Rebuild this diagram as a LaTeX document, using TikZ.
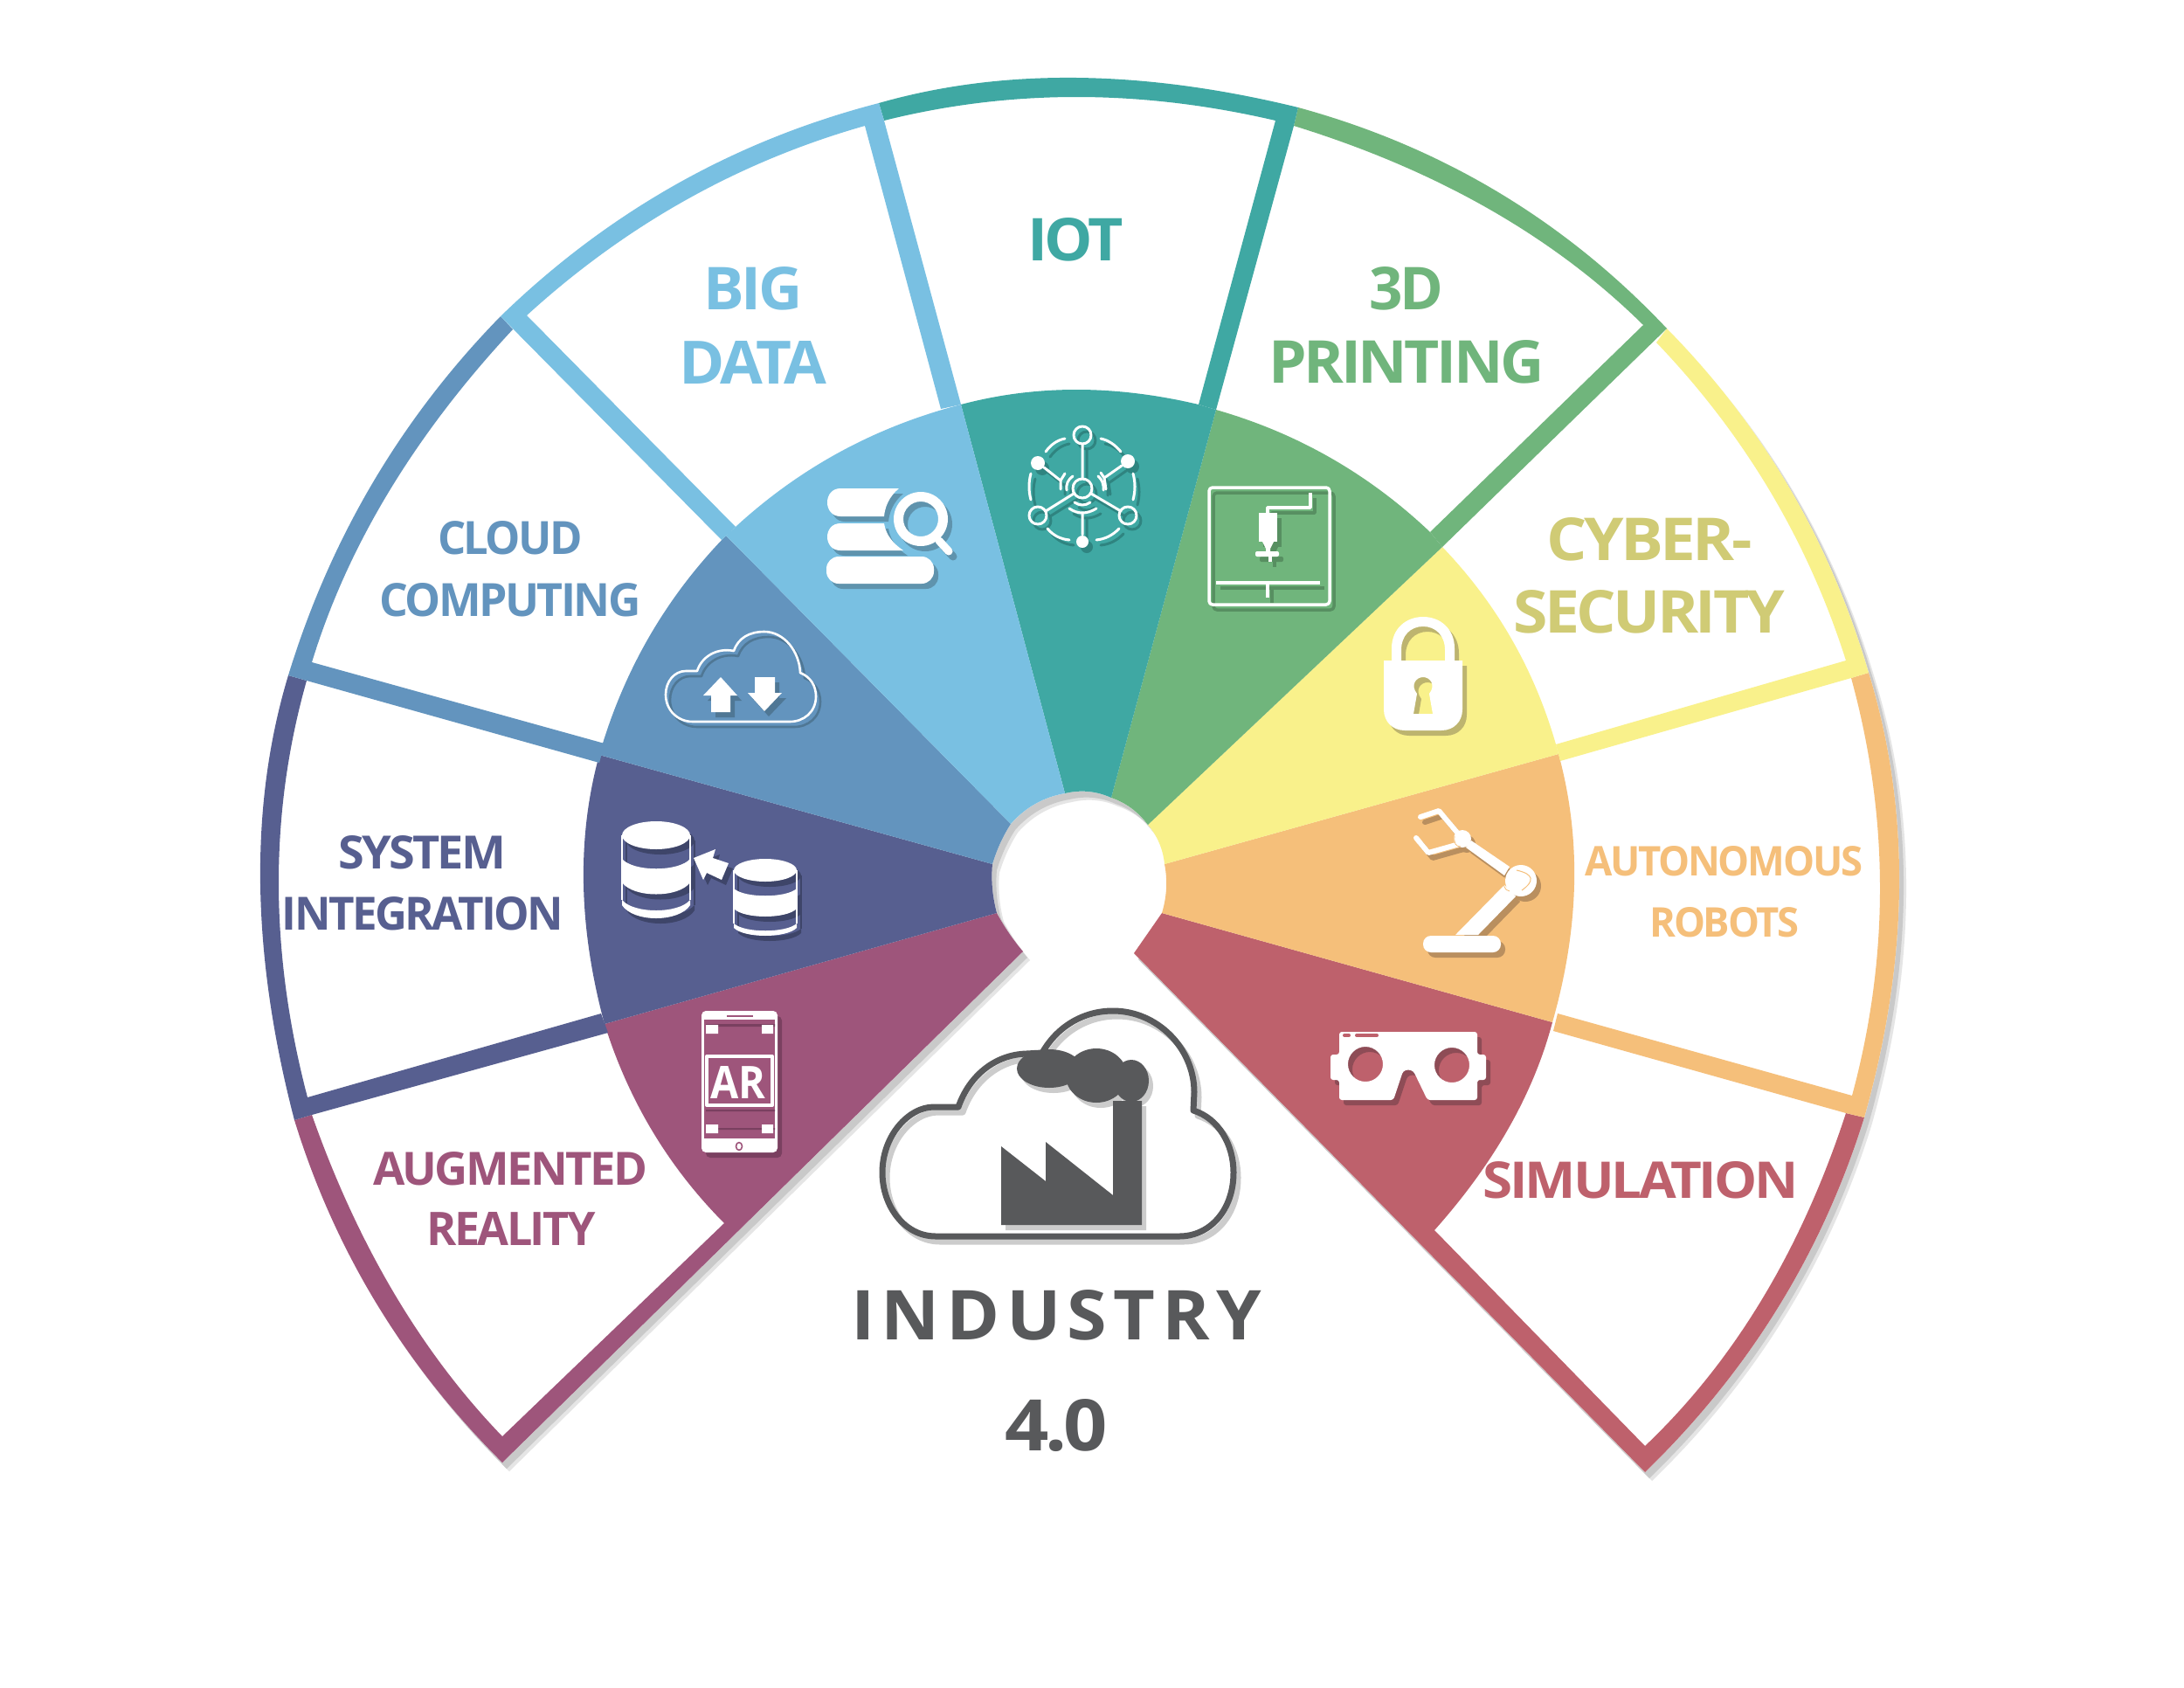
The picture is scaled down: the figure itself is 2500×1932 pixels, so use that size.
\documentclass[tikz,border=0pt]{standalone}
\usepackage{graphicx}
\usepackage{fontspec}
\setmainfont{Open Sans}
\newfontfamily\labelfont[LetterSpace=-5]{Open Sans}
\newfontfamily\wordfont[LetterSpace=9]{Open Sans}
\usetikzlibrary{calc}
\definecolor{cTeal}{HTML}{3FA8A3}
\definecolor{cSky}{HTML}{79C0E2}
\definecolor{cCloud}{HTML}{6394BE}
\definecolor{cNavy}{HTML}{575F90}
\definecolor{cPurple}{HTML}{9E557B}
\definecolor{cRed}{HTML}{BE616C}
\definecolor{cOrange}{HTML}{F5BF7A}
\definecolor{cYellow}{HTML}{F9F18B}
\definecolor{cGreen}{HTML}{70B57C}
\definecolor{cCyber}{HTML}{D0CB75}
\definecolor{cGrey}{HTML}{58595B}
\definecolor{sTeal}{HTML}{2F8480}
\definecolor{sSky}{HTML}{5F93AD}
\definecolor{sCloud}{HTML}{4F7795}
\definecolor{sNavy}{HTML}{3E4569}
\definecolor{sPurple}{HTML}{7A4060}
\definecolor{sRed}{HTML}{8E4C56}
\definecolor{sOrange}{HTML}{B98F5F}
\definecolor{sYellow}{HTML}{BDB46F}
\definecolor{sGreen}{HTML}{578F61}
\newcommand\qarc[3]{.. controls ($1.3333*(#2)-0.3333*(#3)$) and ($1.3333*(#2)-0.3333*(#1)$) .. (#3)}
\newcommand\iconpair[3]{%
  \begin{scope}[shift={(5,6)},inkf/.style={fill=#1},inkd/.style={draw=#1}]#3\end{scope}%
  \begin{scope}[inkf/.style={fill=#2},inkd/.style={draw=#2}]#3\end{scope}}
\newcommand\silhouette{(575,1674) -- (1171,1089)
  \qarc{1171,1089}{1155,1068}{1141,1045} \qarc{1141,1045}{1136,1017}{1136,989}
  \qarc{1136,989}{1145,965}{1157,943} \qarc{1157,943}{1185,920}{1219,908}
  \qarc{1219,908}{1246,906}{1272,913} \qarc{1272,913}{1295,925}{1314,944}
  \qarc{1314,944}{1327,965}{1333,989} \qarc{1333,989}{1335,1017}{1330,1045}
  \qarc{1330,1045}{1314,1068}{1298,1091} -- (1883,1685)
  \qarc{1883,1685}{2035,1497}{2134,1279} \qarc{2134,1279}{2174,1015}{2139,770}
  \qarc{2139,770}{2048,558}{1908,376} \qarc{1908,376}{1715,220}{1486,123}
  \qarc{1486,123}{1232,89}{1006,118} \qarc{1006,118}{774,211}{573,362}
  \qarc{573,362}{427,552}{330,773} \qarc{330,773}{298,1012}{337,1282}
  \qarc{337,1282}{431,1492}{575,1674} -- cycle}
\newcommand\lbl[6]{\node[wordnode,text=#2] (#1) at (#3) {\resizebox{#4pt}{#5pt}{\fontsize{60}{60}\selectfont\labelfont\bfseries #6}};}
\tikzset{wordnode/.style={inner sep=0pt,anchor=center,yshift=-1.5pt}}
\begin{document}
\begin{tikzpicture}[x=1pt,y=-1pt,line join=round]
\useasboundingbox (0,0) rectangle (2500,1932);
\fill[white] (0,0) rectangle (2500,1932);
% silhouette shadow
\fill[black!10] [shift={(8,10)}] \silhouette;
\fill[black!21] [shift={(5,7)}] \silhouette;
\fill[white] \silhouette;
% red
\fill[cRed] (1330,1045) \qarc{1330,1045}{1314,1068}{1298,1091} -- (1883,1685) -- (1883,1655) -- (1642,1408) \qarc{1642,1408}{1727,1291}{1777,1170} -- cycle;
\fill[cRed] (2134,1279) \qarc{2134,1279}{2035,1497}{1883,1685} -- (1883,1655) \qarc{1883,1655}{2017,1487}{2113,1274} -- cycle;
% orange
\fill[cOrange] (1333,989) \qarc{1333,989}{1335,1017}{1330,1045} -- (1777,1170) \qarc{1777,1170}{1802,1012}{1784,863} -- cycle;
\fill[cOrange] (2139,770) \qarc{2139,770}{2174,1015}{2134,1279} -- (2113,1274) -- (1778,1180) -- (1783,1160) -- (2120,1254) \qarc{2120,1254}{2152,1015}{2119,776} -- cycle;
% yellow
\fill[cYellow] (1314,944) \qarc{1314,944}{1327,965}{1333,989} -- (1784,863) -- (1781,852) \qarc{1781,852}{1730,731}{1651,626} -- cycle;
\fill[cYellow] (1908,376) \qarc{1908,376}{2048,558}{2139,770} -- (2119,776) -- (1786,871) -- (1781,852) -- (2113,756) \qarc{2113,756}{2026,562}{1896,392} -- cycle;
% green
\fill[cGreen] (1272,913) \qarc{1272,913}{1295,925}{1314,944} -- (1651,626) -- (1637,609) \qarc{1637,609}{1523,524}{1392,469} -- cycle;
\fill[cGreen] (1486,123) \qarc{1486,123}{1715,220}{1908,376} -- (1651,626) -- (1637,609) -- (1881,372) \qarc{1881,372}{1704,239}{1481,144} -- cycle;
% teal
\fill[cTeal] (1219,908) \qarc{1219,908}{1246,906}{1272,913} -- (1392,469) -- (1372,463) \qarc{1372,463}{1232,446}{1100,463} -- cycle;
\fill[cTeal] (1006,118) \qarc{1006,118}{1232,89}{1486,123} -- (1481,144) -- (1392,469) -- (1372,463) -- (1460,138) \qarc{1460,138}{1232,111}{1012,138} -- cycle;
% purple
\fill[cPurple] (1171,1089) \qarc{1171,1089}{1155,1068}{1141,1045} -- (692,1172) \qarc{692,1172}{747,1295}{829,1400} -- (575,1644) -- (575,1674) -- cycle;
\fill[cPurple] (337,1282) \qarc{337,1282}{431,1492}{575,1674} -- (575,1644) \qarc{575,1644}{451,1480}{357,1276} -- cycle;
% navy
\fill[cNavy] (1141,1045) \qarc{1141,1045}{1136,1017}{1136,989} -- (686,864) \qarc{686,864}{668,1012}{692,1172} -- cycle;
\fill[cNavy] (330,773) \qarc{330,773}{298,1012}{337,1282} -- (357,1276) -- (696,1182) -- (688,1160) -- (352,1256) \qarc{352,1256}{319,1012}{351,779} -- cycle;
% cloud blue
\fill[cCloud] (1136,989) \qarc{1136,989}{1145,965}{1157,943} -- (831,613) \qarc{831,613}{743,729}{686,864} -- cycle;
\fill[cCloud] (573,362) \qarc{573,362}{427,552}{330,773} -- (351,779) -- (686,873) -- (692,851) -- (357,758) \qarc{357,758}{445,563}{587,377} -- cycle;
% sky blue
\fill[cSky] (1157,943) \qarc{1157,943}{1185,920}{1219,908} -- (1100,463) \qarc{1100,463}{962,517}{842,603} -- (831,613) -- cycle;
\fill[cSky] (573,362) \qarc{573,362}{774,211}{1006,118} -- (1012,138) -- (1100,463) -- (1077,468) -- (990,144) \qarc{990,144}{785,229}{603,361} -- (842,603) -- (826,618) -- cycle;

% big data icon
\iconpair{sSky}{white}{
 \fill[inkf] (962,559) -- (1029,559) .. controls (1018,568) and (1013,580) .. (1012,591) -- (962,591) .. controls (942,591) and (942,559) .. (962,559) -- cycle;
 \fill[inkf] (962,599) -- (1012,599) .. controls (1014,612) and (1022,622) .. (1034,630) -- (962,630) .. controls (942,630) and (942,599) .. (962,599) -- cycle;
 \fill[inkf,rounded corners=14pt] (946,637) rectangle (1069,668);
 \fill[inkf,even odd rule] (1054,594) circle[radius=31pt] (1054,594) circle[radius=20pt];
 \draw[inkd,line width=9pt,line cap=round] (1075,619) -- (1086,631);
}
% iot icon
\iconpair{sTeal}{white}{
 \begin{scope}[line width=3pt,line cap=round]
 \draw[inkd] (1239,498) circle[radius=10pt] (1239,559) circle[radius=11pt] (1188,590) circle[radius=10pt] (1291,590) circle[radius=10pt];
 \fill[inkf] (1188,530) circle[radius=8pt] (1291,528) circle[radius=8pt] (1239,620) circle[radius=7pt];
 \draw[inkd] (1239,508) -- (1239,548) (1229,565) -- (1197,585) (1249,565) -- (1283,585) (1239,587) -- (1239,612);
 \draw[inkd] (1195,535) -- (1214,550) (1284,533) -- (1264,547) (1214,550) -- (1219,542) (1214,550) -- (1214,560) (1264,547) -- (1260,541) (1264,547) -- (1266,560);
 \draw[inkd] (1197,517) \qarc{1197,517}{1207,507}{1219,502} (1260,502) \qarc{1260,502}{1272,507}{1283,517};
 \draw[inkd] (1180,542) \qarc{1180,542}{1178,557}{1180,572} (1297,542) \qarc{1297,542}{1299,557}{1297,572};
 \draw[inkd] (1199,605) \qarc{1199,605}{1210,614}{1224,618} (1255,618) \qarc{1255,618}{1269,614}{1281,605};
 \draw[inkd] (1230,575) \qarc{1230,575}{1239,578}{1248,575} (1224,582) \qarc{1224,582}{1239,587}{1255,582};
 \draw[inkd] (1221,561) \qarc{1221,561}{1222,552}{1228,545} (1257,545) \qarc{1257,545}{1262,552}{1263,561};
 \end{scope}
}
% 3d printer icon
\iconpair{sGreen}{white}{
 \draw[inkd,line width=3.5pt,rounded corners=4pt] (1384,558) rectangle (1522,692);
 \draw[inkd,line width=3.5pt] (1500,564) -- (1500,581) -- (1451,581) -- (1451,588);
 \fill[inkf] (1441,587) rectangle (1462,620);
 \fill[inkf] (1445,620) -- (1458,620) -- (1454,628) -- (1454,631) -- (1449,631) -- (1449,628) -- cycle;
 \fill[inkf,rounded corners=2pt] (1437,631) rectangle (1464,637);
 \fill[inkf] (1452,637) rectangle (1456,643);
 \draw[inkd,line width=3.5pt] (1392,667) -- (1511,667) (1451,667) -- (1451,684);
}
% lock icon
\iconpair{sYellow}{white}{
 \fill[inkf,even odd rule] (1593,756) -- (1593,742) .. controls (1593,720) and (1609,706) .. (1629,706) .. controls (1649,706) and (1665,720) .. (1665,742) -- (1665,756) -- (1654,756) -- (1654,744) .. controls (1654,727) and (1643,717) .. (1629,717) .. controls (1615,717) and (1604,727) .. (1604,744) -- (1604,756) -- cycle;
 \fill[inkf,even odd rule] (1584,756) -- (1674,756) -- (1674,812) .. controls (1674,826) and (1664,836) .. (1650,836) -- (1608,836) .. controls (1594,836) and (1584,826) .. (1584,812) -- cycle
 (1622,794) .. controls (1614,784) and (1621,775) .. (1629,775) .. controls (1637,775) and (1644,784) .. (1636,794) -- (1640,817) -- (1618,817) -- cycle;
}
% robot icon
\iconpair{sOrange}{white}{
 \fill[inkf,rounded corners=9pt] (1629,1071) rectangle (1718,1090);
 \fill[inkf] (1666,1070) -- (1692,1070) -- (1735,1026) -- (1722,1013) -- cycle;
 \fill[inkf] (1678,970) -- (1684,962) -- (1728,992) -- (1722,1002) -- cycle;
 \draw[inkd,line width=6pt,line cap=round] (1674,960) -- (1647,928) -- (1626,935);
 \draw[inkd,line width=6pt,line cap=round] (1674,965) -- (1635,976) -- (1621,959);
 \fill[inkf] (1741,1008) circle[radius=18pt] (1674,960) circle[radius=10pt];
}
\draw[cOrange,line width=1pt] (1736,996) \qarc{1736,996}{1752,1005}{1742,1019};
\draw[cOrange,line width=.8pt] (1723,1004) \qarc{1723,1004}{1722,1015}{1728,1020};
\draw[cOrange,line width=.8pt] (1665,957) \qarc{1665,957}{1666,966}{1672,969};
% vr icon
\iconpair{sRed}{white}{
 \fill[inkf,even odd rule,rounded corners=3pt] (1533,1181) -- (1691,1181) -- (1691,1207) -- (1701,1207) -- (1701,1236) -- (1691,1236) -- (1691,1259) -- (1634,1259) -- (1618,1226) -- (1612,1224) -- (1606,1226) -- (1595,1259) -- (1533,1259) -- (1533,1236) -- (1523,1236) -- (1523,1207) -- (1533,1207) -- cycle
 (1563,1218) circle[radius=20pt] (1662,1219) circle[radius=20pt];
}
\draw[cRed,line width=4pt,line cap=round] (1539,1185) -- (1544,1185) (1553,1185) -- (1576,1185);
% cloud icon
\iconpair{sCloud}{white}{
 \draw[inkd,line width=2.6pt] (793,826) .. controls (775,826) and (762,812) .. (762,795) .. controls (762,780) and (772,768) .. (785,768) -- (798,768) .. controls (803,752) and (820,741) .. (840,745) .. controls (845,730) and (858,723) .. (875,723) .. controls (897,723) and (915,745) .. (916,770) .. controls (928,775) and (934,785) .. (934,797) .. controls (934,815) and (920,826) .. (904,826) -- cycle;
 \fill[inkf] (825,775) -- (844,796) -- (836,796) -- (836,815) -- (814,815) -- (814,796) -- (805,796) -- cycle;
 \fill[inkf] (864,775) -- (887,775) -- (887,793) -- (895,793) -- (875,814) -- (856,793) -- (864,793) -- cycle;
}
% database icon
\iconpair{sNavy}{white}{
 \fill[inkf] (751,956) ellipse[x radius=39pt,y radius=16pt];
 \draw[inkd,line width=1.5pt] (712,956) -- (712,1030) (790,956) -- (790,1030);
 \fill[inkf] (712,983) .. controls (725,998) and (777,998) .. (790,983) -- (790,1010) .. controls (777,1028) and (725,1028) .. (712,1010) -- cycle;
 \fill[inkf] (712,1030) .. controls (725,1046) and (777,1046) .. (790,1030) -- (790,1036) .. controls (777,1056) and (725,1056) .. (712,1036) -- cycle;
 \fill[inkf] (876,996) ellipse[x radius=36pt,y radius=13pt];
 \draw[inkd,line width=1.5pt] (840,996) -- (840,1057) (912,996) -- (912,1057);
 \fill[inkf] (840,1017) .. controls (852,1028) and (900,1028) .. (912,1017) -- (912,1040) .. controls (900,1052) and (852,1052) .. (840,1040) -- cycle;
 \fill[inkf] (840,1057) .. controls (852,1068) and (900,1068) .. (912,1057) -- (912,1062) .. controls (900,1074) and (852,1074) .. (840,1062) -- cycle;
 \fill[inkf] (794,982) -- (819,972) -- (816,982) -- (834,988) -- (826,1007) -- (809,999) -- (805,1007) -- cycle;
}
% AR phone icon
\iconpair{sPurple}{white}{
 \fill[inkf,rounded corners=5pt] (803,1157) rectangle (890,1319);
}
\fill[cPurple] (806,1167) rectangle (887,1303);
\draw[cPurple,line width=2pt] (832,1163) -- (862,1163);
\draw[cPurple,line width=1.6pt] (846,1312) ellipse[x radius=3.5pt,y radius=4.5pt];
\fill[sPurple] (808,1172) rectangle (887,1175) (808,1270) rectangle (887,1272) (808,1291) rectangle (887,1293);
\fill[white] (808,1173) rectangle (822,1183) (872,1173) rectangle (885,1183) (808,1287) rectangle (822,1297) (872,1287) rectangle (885,1297);
\draw[white,line width=4pt] (809,1209) rectangle (884,1265);
\node[wordnode,text=white] (arword) at (844.5,1237) {\resizebox{63pt}{37pt}{\fontsize{60}{60}\selectfont\bfseries AR}};

% factory cloud
\iconpair{black!20}{cGrey}{
 \draw[inkd,line width=7pt] (1071,1415) .. controls (1035,1415) and (1010,1380) .. (1010,1342) .. controls (1010,1300) and (1040,1267) .. (1069,1267) -- (1097,1267) .. controls (1110,1230) and (1140,1207) .. (1175,1206) -- (1193,1205) .. controls (1210,1175) and (1240,1157) .. (1274,1157) .. controls (1325,1157) and (1367,1200) .. (1367,1250) -- (1366,1271) .. controls (1395,1280) and (1412,1310) .. (1412,1342) .. controls (1412,1385) and (1385,1415) .. (1350,1415) -- cycle;
 \fill[inkf] (1201,1223) ellipse[x radius=37pt,y radius=22pt];
 \fill[inkf] (1255,1231) ellipse[x radius=35pt,y radius=31pt];
 \fill[inkf] (1295,1237) ellipse[x radius=20pt,y radius=24pt];
 \fill[inkf] (1146,1402) -- (1146,1312) -- (1197,1352) -- (1197,1307) -- (1274,1368) -- (1274,1260) -- (1307,1260) -- (1307,1402) -- cycle;
}

% labels
\lbl{iot}{cTeal}{1231,273}{110}{49}{IOT}
\lbl{big}{cSky}{862,329}{113}{49}{BIG}
\lbl{data}{cSky}{862,413}{169}{49}{DATA}
\lbl{threed}{cGreen}{1610,329}{85}{49}{3D}
\lbl{printing}{cGreen}{1610,413}{315}{49}{PRINTING}
\lbl{cyber}{cCyber}{1888,616}{235}{49}{CYBER-}
\lbl{security}{cCyber}{1888,699}{311}{49}{SECURITY}
\lbl{cloudw}{cCloud}{584,614}{166}{38}{CLOUD}
\lbl{computing}{cCloud}{584,685}{299}{38}{COMPUTING}
\lbl{system}{cNavy}{483,974}{192}{38}{SYSTEM}
\lbl{integration}{cNavy}{484,1044}{322}{38}{INTEGRATION}
\lbl{augmented}{cPurple}{584,1336}{314}{38}{AUGMENTED}
\lbl{reality}{cPurple}{585,1405}{193}{38}{REALITY}
\lbl{autonomous}{cOrange}{1973,984}{318}{34}{AUTONOMOUS}
\lbl{robots}{cOrange}{1974,1054}{171}{34}{ROBOTS}
\lbl{simulation}{cRed}{1878,1349}{361}{42}{SIMULATION}
\node[wordnode,text=cGrey] (industry) at (1209,1504) {\resizebox{470pt}{57pt}{\fontsize{80}{80}\selectfont\wordfont\bfseries INDUSTRY}};
\node[wordnode,text=cGrey] (version) at (1209,1630) {\resizebox{117pt}{59pt}{\fontsize{80}{80}\selectfont\labelfont\bfseries 4.0}};
\end{tikzpicture}
\end{document}
